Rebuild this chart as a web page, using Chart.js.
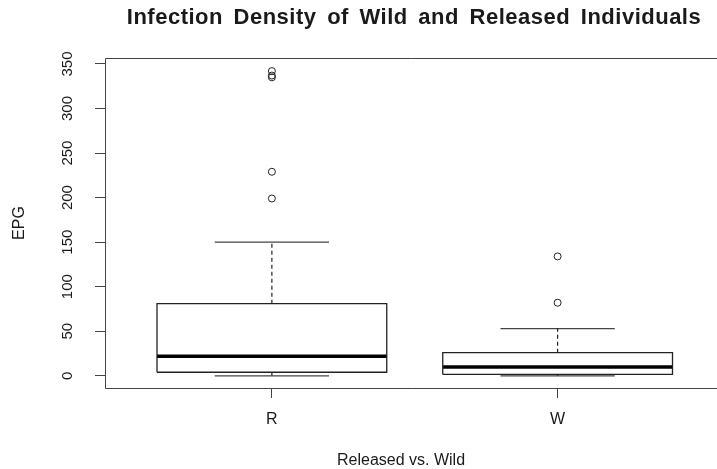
<!DOCTYPE html>
<html>
<head>
<meta charset="utf-8">
<title>Infection Density of Wild and Released Individuals</title>
<script src="https://cdn.jsdelivr.net/npm/chart.js@4"></script>
<style>
  html, body { margin: 0; padding: 0; background: #fff; overflow: hidden; }
  #grafico { display: block; }
</style>
</head>
<body>
<canvas id="grafico" width="717" height="469"></canvas>
<script>
const categorias = ['R', 'W'];
const bigodeInferior = [0, 0];
const quartil1 = [4, 1.5];
const mediana = [22, 10];
const quartil3 = [81, 26];
const bigodeSuperior = [150, 53];
const outliersR = [199, 229, 335, 337, 342];
const outliersW = [82, 134];
const ticksY = [0, 50, 100, 150, 200, 250, 300, 350];

const outliers = [outliersR, outliersW];
const corLinha = '#222';
const corTexto = '#1a1a1a';
const fonte = "'Liberation Sans', Arial, sans-serif";
const meiaCaixa = 0.402;

function linha(pontos, largura, tracejado, cor) {
    return {
        data: pontos,
        showLine: true,
        borderColor: cor || corLinha,
        borderWidth: largura,
        borderDash: tracejado ? [4, 3] : [],
        pointRadius: 0,
        fill: false,
        tension: 0
    };
}

const datasets = [];
categorias.forEach(function(cat, i) {
    const x = i + 1;
    const e = x - meiaCaixa, d = x + meiaCaixa;
    // caixa
    datasets.push(linha([
        {x: e, y: quartil1[i]}, {x: d, y: quartil1[i]},
        {x: d, y: quartil3[i]}, {x: e, y: quartil3[i]},
        {x: e, y: quartil1[i]}
    ], 1.3));
    // bigodes
    datasets.push(linha([{x: x, y: quartil3[i]}, {x: x, y: bigodeSuperior[i]}], 1.2, true));
    datasets.push(linha([{x: x, y: quartil1[i]}, {x: x, y: bigodeInferior[i]}], 1.2, true));
    datasets.push(linha([{x: x - 0.2, y: bigodeSuperior[i]}, {x: x + 0.2, y: bigodeSuperior[i]}], 1.3, false, '#444'));
    datasets.push(linha([{x: x - 0.2, y: bigodeInferior[i]}, {x: x + 0.2, y: bigodeInferior[i]}], 1.3, false, '#444'));
    // mediana
    datasets.push(linha([{x: e, y: mediana[i]}, {x: d, y: mediana[i]}], 3.5, false, '#000'));
    // pontos fora
    datasets.push({
        data: outliers[i].map(function(v) { return {x: x, y: v}; }),
        showLine: false,
        pointStyle: 'circle',
        pointRadius: 3.5,
        pointHoverRadius: 3.5,
        borderColor: corLinha,
        borderWidth: 1,
        backgroundColor: 'rgba(0,0,0,0)'
    });
});

// moldura (aberta a direita, como no original), rotulos do eixo y e titulos
const estiloR = {
    id: 'estiloR',
    afterDraw(chart) {
        const c = chart.ctx;
        const a = chart.chartArea;
        const y = chart.scales.y;
        const w = chart.width;
        c.save();
        c.strokeStyle = '#444';
        c.lineWidth = 1;
        c.beginPath();
        c.moveTo(w, a.top + 0.5);
        c.lineTo(a.left + 0.5, a.top + 0.5);
        c.lineTo(a.left + 0.5, a.bottom + 0.5);
        c.lineTo(w, a.bottom + 0.5);
        c.stroke();

        c.fillStyle = corTexto;
        c.textAlign = 'center';
        c.textBaseline = 'middle';
        c.font = '15px ' + fonte;
        ticksY.forEach(function(v) {
            c.save();
            c.translate(68, y.getPixelForValue(v));
            c.rotate(-Math.PI / 2);
            c.fillText(String(v), 0, 0);
            c.restore();
        });

        c.font = '16px ' + fonte;
        c.save();
        c.translate(20, (a.top + a.bottom) / 2);
        c.rotate(-Math.PI / 2);
        c.fillText('EPG', 0, 0);
        c.restore();
        c.fillText('Released vs. Wild', 401, 461);

        c.font = 'bold 22px ' + fonte;
        c.letterSpacing = '0.5px';
        c.wordSpacing = '4px';
        c.fillText('Infection Density of Wild and Released Individuals', 414, 18);
        c.restore();
    }
};

const ctx = document.getElementById('grafico');

new Chart(ctx, {
    type: 'scatter',
    data: { datasets: datasets },
    options: {
        responsive: false,
        animation: false,
        layout: { padding: { top: 58, left: 0, right: 0, bottom: 0 } },
        plugins: {
            legend: { display: false },
            tooltip: { enabled: false },
            title: { display: false }
        },
        scales: {
            x: {
                type: 'linear',
                min: 0.416,
                max: 2.542,
                afterBuildTicks: function(scale) {
                    scale.ticks = categorias.map(function(c, i) { return {value: i + 1}; });
                },
                afterFit: function(scale) { scale.height = 81; },
                ticks: {
                    color: corTexto,
                    font: { family: fonte, size: 16 },
                    padding: 12,
                    maxRotation: 0,
                    callback: function(v) { return categorias[v - 1]; }
                },
                grid: { drawOnChartArea: false, drawTicks: true, tickLength: 10, color: '#444' },
                border: { display: false }
            },
            y: {
                type: 'linear',
                min: -13.7,
                max: 356.7,
                afterBuildTicks: function(scale) {
                    scale.ticks = ticksY.map(function(v) { return {value: v}; });
                },
                afterFit: function(scale) { scale.width = 105; },
                ticks: { display: false },
                grid: { drawOnChartArea: false, drawTicks: true, tickLength: 10, color: '#444' },
                border: { display: false }
            }
        }
    },
    plugins: [estiloR]
});
</script>
</body>
</html>
